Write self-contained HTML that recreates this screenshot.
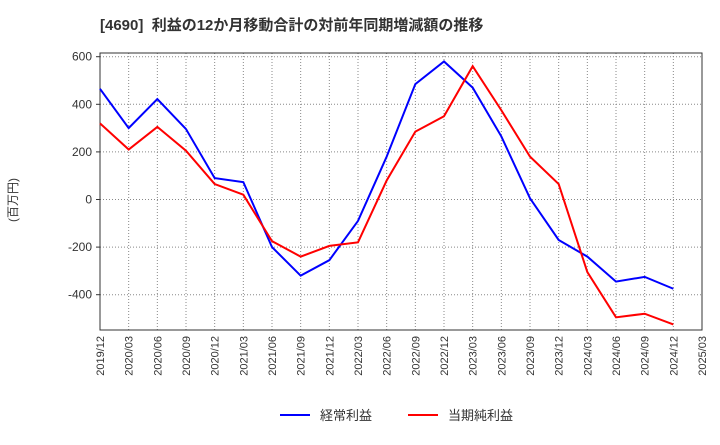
<!DOCTYPE html>
<html><head><meta charset="utf-8"><style>
body{margin:0;background:#fff;font-family:"Liberation Sans","Noto Sans CJK JP",sans-serif;}
</style></head><body>
<svg id="c" width="720" height="440" xmlns="http://www.w3.org/2000/svg" style="font-family:'Liberation Sans','Noto Sans CJK JP',sans-serif">
<text x="100" y="30" font-size="15" font-weight="bold" fill="#333" xml:space="preserve">[4690]  利益の12か月移動合計の対前年同期増減額の推移</text>
<text transform="translate(17,200) rotate(-90)" font-size="12" fill="#333" text-anchor="middle">(百万円)</text>
<g id="grid"></g><g id="axes"></g><g id="series"></g>
<g>
<line x1="280" y1="415" x2="310" y2="415" stroke="#0000ff" stroke-width="2"/>
<text x="320" y="420" font-size="13" fill="#333">経常利益</text>
<line x1="408" y1="415" x2="438" y2="415" stroke="#ff0000" stroke-width="2"/>
<text x="448" y="420" font-size="13" fill="#333">当期純利益</text>
</g>
</svg>
<script>
const categories=["2019/12","2020/03","2020/06","2020/09","2020/12","2021/03","2021/06","2021/09","2021/12","2022/03","2022/06","2022/09","2022/12","2023/03","2023/06","2023/09","2023/12","2024/03","2024/06","2024/09","2024/12","2025/03"];
const keijo=[465,300,422,296,90,73,-200,-320,-255,-90,180,485,580,470,265,5,-170,-240,-345,-325,-375];
const junri=[320,210,305,205,65,20,-175,-240,-195,-180,80,285,350,560,375,180,65,-305,-495,-480,-525];
const yTicks=[-400,-200,0,200,400,600];
const NS="http://www.w3.org/2000/svg";
const L=100,R=702,T=53,B=330;
const x=i=>L+i*(R-L)/(categories.length-1);
const y=v=>199.5-v*(47.6/200);
function mk(t,a,p){const e=document.createElementNS(NS,t);for(const k in a)e.setAttribute(k,a[k]);p.appendChild(e);return e;}
const g=document.getElementById('grid'),ax=document.getElementById('axes'),s=document.getElementById('series');
mk('rect',{x:L,y:T,width:R-L,height:B-T,fill:'none',stroke:'#333','stroke-width':1},ax);
categories.forEach((c,i)=>{
  if(i>0&&i<categories.length-1){const l=mk('line',{x1:x(i),y1:T,x2:x(i),y2:B,stroke:'#888','stroke-dasharray':'1,2'},g);
  
  }
  const t=mk('text',{transform:`translate(${x(i)+4},${B+6}) rotate(-90)`,'font-size':11,fill:'#333','text-anchor':'end'},ax);
  t.textContent=c;
  
  
});
yTicks.forEach(v=>{
  const l=mk('line',{x1:L,y1:y(v),x2:R,y2:y(v),stroke:'#888','stroke-dasharray':'1,2'},g);
  
  
  mk('line',{x1:L-4,y1:y(v),x2:L,y2:y(v),stroke:'#333'},ax);
  const t=mk('text',{x:L-8,y:y(v)+4,'font-size':12,fill:'#333','text-anchor':'end'},ax);
  t.textContent=v;
  
  
});
function line(d,col,name){
  const p=mk('polyline',{points:d.map((v,i)=>x(i)+','+y(v)).join(' '),fill:'none',stroke:col,'stroke-width':2},s);
  
  
}
line(keijo,'#0000ff','keijo-line');
line(junri,'#ff0000','junri-line');
</script>
</body></html>
